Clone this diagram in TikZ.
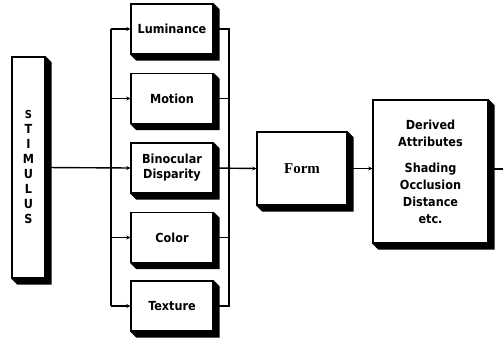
\documentclass[tikz,border=0pt]{standalone}
\usepackage{fontspec}
\setmainfont{DejaVu Sans Condensed}
\newfontfamily\formfont{Liberation Serif}
\usetikzlibrary{calc,backgrounds,arrows.meta}

\tikzset{
  stage/.style={draw=black, line width=1.4pt, fill=white, inner sep=0pt,
    align=center, font=\fontsize{12.5}{15}\selectfont\bfseries},
  link/.style={line width=1.4pt},
  feed/.style={line width=1.4pt, -{Stealth[length=4pt,width=4pt]}},
}
% black drop shadow below and to the right of a box, with bevelled corners
\newcommand\dropshade[1]{%
  \fill[black] (#1.north east) -- ++(6,6) -- ($(#1.south east)+(6,6)$)
    -- ($(#1.south west)+(6,6)$) -- (#1.south west) -- cycle;}

\begin{document}
\begin{tikzpicture}[x=1pt,y=-1pt]
\useasboundingbox (0,0) rectangle (503,340);

% input
\node[stage, minimum width=33pt, minimum height=221pt] (stim) at (28.5,167.5)
  {\fontsize{11}{16.5}\selectfont S\\T\\I\\M\\U\\L\\U\\S};

% parallel attribute channels
\node[stage, minimum width=82pt, minimum height=50pt] (lum) at (172,29) {Luminance};
\node[stage, minimum width=82pt, minimum height=50pt] (mot) at (172,98.5) {Motion};
\node[stage, minimum width=82pt, minimum height=50pt] (bin) at (172,168) {Binocular\\Disparity};
\node[stage, minimum width=82pt, minimum height=50pt] (col) at (172,237.5) {Color};
\node[stage, minimum width=82pt, minimum height=50pt] (tex) at (172,306) {Texture};

% form and derived attributes
\node[stage, minimum width=90pt, minimum height=73pt, font=\formfont\fontsize{15}{16}\selectfont\bfseries] (form) at (302,168.5) {Form};
\node[stage, minimum width=115pt, minimum height=143pt, font=\fontsize{12.5}{17}\selectfont\bfseries] (der) at (430.5,171.5)
  {Derived\\Attributes\\[9pt]Shading\\Occlusion\\Distance\\etc.};

\begin{scope}[on background layer]
  \dropshade{stim}
  \dropshade{lum}
  \dropshade{mot}
  \dropshade{bin}
  \dropshade{col}
  \dropshade{tex}
  \dropshade{form}
  \dropshade{der}
\end{scope}

% fan-out bus
\coordinate (lt) at (111,29);
\coordinate (lb) at (111,306);
\draw[link] (lt) -- (lb);
\draw[feed] (lt) -- (lum.west);
\draw[feed] (111,98.5) -- (mot.west);
\draw[feed] (stim.east) -- (bin.west);
\draw[feed] (111,237.5) -- (col.west);
\draw[feed] (lb) -- (tex.west);

% fan-in bus
\coordinate (rt) at (229,29);
\coordinate (rb) at (229,306);
\draw[link] (lum.east) -- (rt) -- (rb) -- (tex.east);
\draw[link] (mot.east) -- (229,98.5);
\draw[link] (col.east) -- (229,237.5);
\draw[feed] (bin.east) -- (form.west);

\draw[feed] (form.east) -- (form.east -| der.west);
\coordinate (out) at (503,169);
\draw[link] (der.east |- out) -- (out);
\end{tikzpicture}
\end{document}
